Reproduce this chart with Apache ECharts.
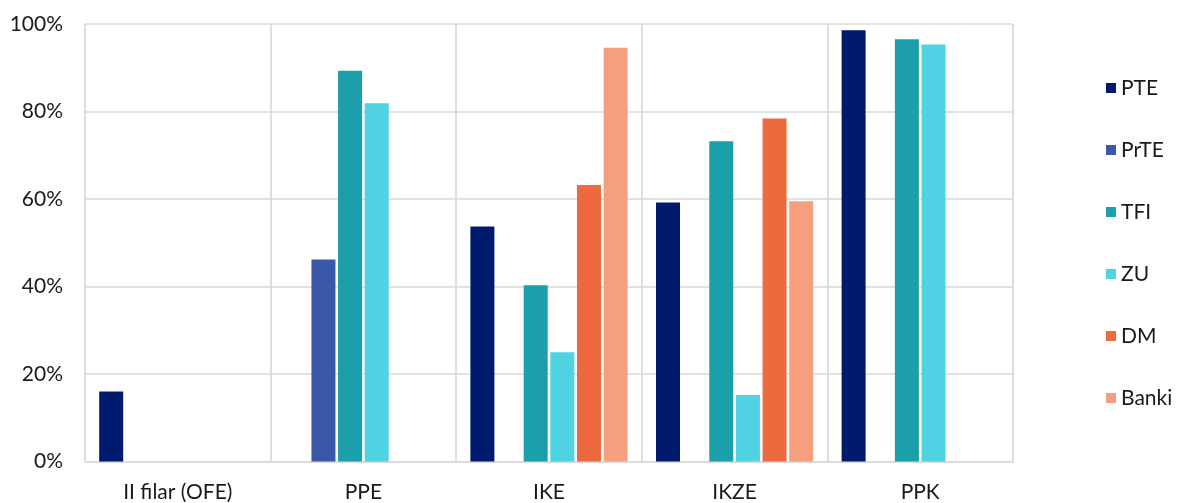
<!DOCTYPE html>
<html>
<head>
<meta charset="utf-8">
<script src="https://cdn.jsdelivr.net/npm/echarts@6/dist/echarts.min.js"></script>
<style>
html,body{margin:0;padding:0;background:#fff;}
#c{width:1179px;height:503px;}
</style>
</head>
<body>
<div id="c"></div>
<script>
const categories = ['II filar (OFE)', 'PPE', 'IKE', 'IKZE', 'PPK'];
const seriesNames = ['PTE', 'PrTE', 'TFI', 'ZU', 'DM', 'Banki'];
const PTE   = [16.0, null, 53.7, 59.2, 98.6];
const PrTE  = [null, 46.2, null, null, null];
const TFI   = [null, 89.3, 40.3, 73.2, 96.5];
const ZU    = [null, 81.9, 25.0, 15.2, 95.3];
const DM    = [null, null, 63.2, 78.4, null];
const Banki = [null, null, 94.6, 59.5, null];
const yTicks = [0, 20, 40, 60, 80, 100];

const seriesData = [PTE, PrTE, TFI, ZU, DM, Banki];
const colors = ['#001A6E', '#3A57A9', '#1A9FAB', '#4FD2E2', '#EC6A3E', '#F4A07E'];
const font = 'Lato, "Open Sans", sans-serif';

const chart = echarts.init(document.getElementById('c'), null, {renderer: 'canvas'});
chart.setOption({
  animation: false,
  color: colors,
  grid: {left: 85, right: 166, top: 24, bottom: 41.5, containLabel: false},
  legend: {
    orient: 'vertical',
    left: 1106,
    top: 77,
    padding: 0,
    itemWidth: 10,
    itemHeight: 10,
    itemGap: 40,
    icon: 'rect',
    textStyle: {fontFamily: font, fontSize: 21, color: '#1a1a1a', lineHeight: 22},
    data: seriesNames
  },
  xAxis: {
    type: 'category',
    data: categories,
    axisLine: {show: true, lineStyle: {color: '#D9D9D9', width: 1.7}},
    axisTick: {show: false},
    splitLine: {show: true, lineStyle: {color: '#D9D9D9', width: 1.7}},
    axisLabel: {fontFamily: font, fontSize: 21, color: '#1a1a1a', margin: 20}
  },
  yAxis: {
    type: 'value',
    min: yTicks[0],
    max: yTicks[yTicks.length - 1],
    interval: 20,
    axisLine: {show: false},
    axisTick: {show: false},
    splitLine: {show: true, lineStyle: {color: '#D9D9D9', width: 1.7}},
    axisLabel: {fontFamily: font, fontSize: 21, color: '#1a1a1a', margin: 22, formatter: v => v + '%'}
  },
  series: seriesNames.map((n, i) => ({
    name: n,
    type: 'bar',
    data: seriesData[i],
    barWidth: 24,
    barGap: '11%'
  }))
});
</script>
</body>
</html>
